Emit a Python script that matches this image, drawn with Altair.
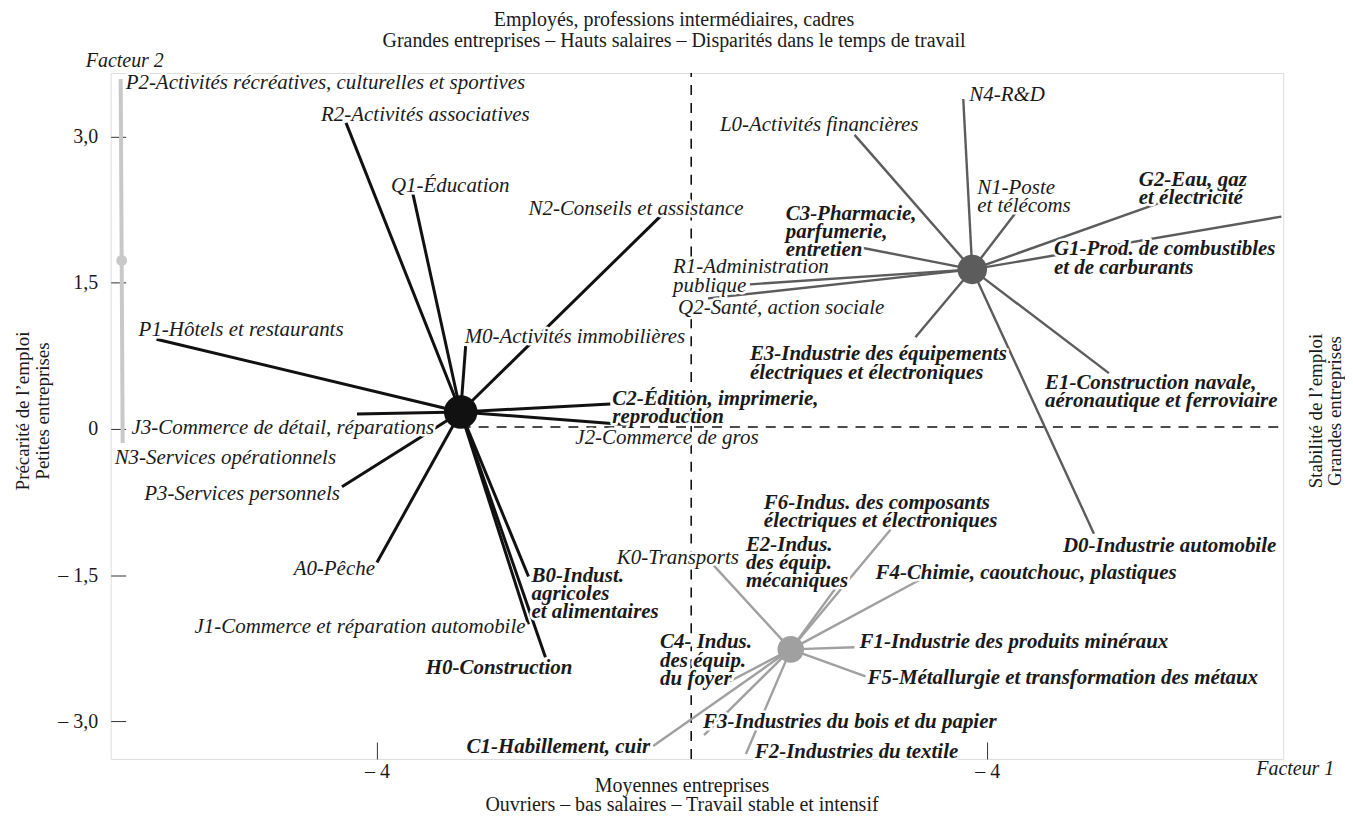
import altair as alt
import pandas as pd

FONT = "Liberation Serif"

# ---------------- data (x = Facteur 1, y = Facteur 2) ----------------
cluster_ids = ["noir", "gris_fonce", "gris_moyen", "gris_clair"]
cluster_cx = [-2.902, 3.804, 1.425, -7.346]
cluster_cy = [0.174, 1.636, -2.260, 1.728]

sector_cluster = (["noir"] * 13 + ["gris_clair"] * 2 + ["gris_fonce"] * 11 + ["gris_moyen"] * 10)
sector_x = [-4.405, -3.529, -0.275, -2.837, -6.889, -4.261, -0.941, -0.667, -4.458, -4.000, -2.013, -2.013, -1.791,
            -7.359, -7.333,
            3.686, 2.261, 4.366, 6.379, 7.856, 2.340, 0.889, 0.340, 3.059, 5.595, 5.399,
            0.405, 2.039, 2.732, 3.124, 2.261, 2.405, 0.627, 0.288, 0.837, -0.379]
sector_y = [3.139, 2.413, 2.188, 0.849, 0.920, 0.153, 0.256, 0.041, -0.593, -1.370, -1.513, -2.004, -2.342,
            3.589, -0.143,
            3.384, 3.016, 2.209, 2.352, 2.178, 1.861, 1.483, 1.339, 0.941, 0.573, -1.074,
            -1.391, -1.605, -1.033, -1.544, -2.239, -2.536, -2.587, -3.139, -3.333, -3.252]

label_text = [
    "R2-Activités associatives", "Q1-Éducation", "N2-Conseils et assistance", "M0-Activités immobilières",
    "P1-Hôtels et restaurants", "J3-Commerce de détail, réparations", "C2-Édition, imprimerie,\nreproduction",
    "J2-Commerce de gros", "P3-Services personnels", "A0-Pêche", "B0-Indust.\nagricoles\net alimentaires",
    "J1-Commerce et réparation automobile", "H0-Construction",
    "P2-Activités récréatives, culturelles et sportives", "N3-Services opérationnels",
    "N4-R&D", "L0-Activités financières", "N1-Poste\net télécoms", "G2-Eau, gaz\net électricité",
    "G1-Prod. de combustibles\net de carburants", "C3-Pharmacie,\nparfumerie,\nentretien",
    "R1-Administration\npublique", "Q2-Santé, action sociale",
    "E3-Industrie des équipements\nélectriques et électroniques",
    "E1-Construction navale,\naéronautique et ferroviaire", "D0-Industrie automobile",
    "K0-Transports", "E2-Indus.\ndes équip.\nmécaniques", "F6-Indus. des composants\nélectriques et électroniques",
    "F4-Chimie, caoutchouc, plastiques", "F1-Industrie des produits minéraux",
    "F5-Métallurgie et transformation des métaux", "C4- Indus.\ndes équip.\ndu foyer",
    "F3-Industries du bois et du papier", "F2-Industries du textile", "C1-Habillement, cuir",
]
label_x = [-4.732, -3.817, -2.013, -2.850, -7.124, -7.216, -0.915, -1.399, -4.484, -4.026, -1.974, -2.052, -3.359,
           -7.294, -7.438,
           3.765, 0.497, 3.869, 5.987, 4.876, 1.359, -0.118, -0.052, 0.889, 4.758, 4.993,
           0.745, 0.837, 1.072, 2.536, 2.327, 2.431, -0.288, 0.275, 0.954, -0.418]
label_y = [3.231, 2.505, 2.270, 0.951, 1.022, 0.020, 0.317, -0.082, -0.654, -1.431, -1.493, -2.025, -2.444,
           3.558, -0.286,
           3.436, 3.129, 2.485, 2.566, 1.851, 2.219, 1.667, 1.247, 0.777, 0.481, -1.186,
           -1.309, -1.176, -0.746, -1.472, -2.178, -2.546, -2.178, -2.996, -3.303, -3.252]
label_align = ["left"] * 8 + ["right", "right", "left", "right", "left"] + ["left"] * 2 + ["left"] * 11 + \
              ["right"] + ["left"] * 8 + ["right"]
label_bold = [False, False, False, False, False, False, True, False, False, False, True, False, True,
              False, False,
              False, False, False, True, True, True, False, False, True, True, True,
              False, True, True, True, True, True, True, True, True, True]

y_tick_values = [-3.0, -1.5, 0.0, 1.5, 3.0]
y_tick_labels = ["– 3,0", "– 1,5", "0", "1,5", "3,0"]
x_tick_values = [-4.0, 4.0]
x_tick_labels = ["– 4", "– 4"]

x_domain = [-7.49, 7.88]
y_domain = [-3.384, 3.650]
ref_x = 0.12   # vertical dashed line (Facteur 1 = 0)
ref_y = 0.02   # horizontal dashed line (Facteur 2 = 0)

# ---------------- styles ----------------
cluster_color = {"noir": "#111111", "gris_fonce": "#5c5c5c", "gris_moyen": "#a0a0a0", "gris_clair": "#c8c8c8"}
cluster_width = {"noir": 3.0, "gris_fonce": 2.4, "gris_moyen": 2.4, "gris_clair": 4.0}
cluster_size = {"noir": 1130, "gris_fonce": 880, "gris_moyen": 710, "gris_clair": 120}
TEXT_COLOR = "#1a1a1a"
LABEL_SIZE = 21
W, H = 1176, 688

# ---------------- tables ----------------
centers = pd.DataFrame({"cluster": cluster_ids, "cx": cluster_cx, "cy": cluster_cy})
cmap = dict(zip(cluster_ids, zip(cluster_cx, cluster_cy)))
spokes = pd.DataFrame({
    "cluster": sector_cluster,
    "cx": [cmap[c][0] for c in sector_cluster],
    "cy": [cmap[c][1] for c in sector_cluster],
    "ex": sector_x, "ey": sector_y,
})
labels = pd.DataFrame({"label": label_text, "lx": label_x, "ly": label_y,
                       "anchor": label_align, "bold": label_bold})


def expr_map(values, texts):
    e = "''"
    for v, t in zip(values, texts):
        e = f"abs(datum.value - ({v})) < 0.001 ? '{t}' : " + e
    return e


xs = alt.Scale(domain=x_domain, nice=False, zero=False)
ys = alt.Scale(domain=y_domain, nice=False, zero=False)
x_axis = alt.Axis(values=x_tick_values, labelExpr=expr_map(x_tick_values, x_tick_labels), title=None,
                  grid=False, domain=False, tickSize=17, offset=-17, tickColor="#333333", tickWidth=1,
                  labelFont=FONT, labelFontSize=20, labelColor=TEXT_COLOR, labelPadding=3, labelFlush=False)
y_axis = alt.Axis(values=y_tick_values, labelExpr=expr_map(y_tick_values, y_tick_labels), title=None,
                  grid=False, domain=False, tickSize=15, offset=-15, tickColor="#333333", tickWidth=1,
                  labelFont=FONT, labelFontSize=20, labelColor=TEXT_COLOR, labelPadding=13, labelFlush=False)


def X(field):
    return alt.X(field, type="quantitative", scale=xs, axis=x_axis)


def Y(field):
    return alt.Y(field, type="quantitative", scale=ys, axis=y_axis)


layers = []

# dashed reference lines
layers.append(alt.Chart(pd.DataFrame({"x": [ref_x], "y0": [y_domain[0]], "y1": [y_domain[1]]}))
              .mark_rule(color="#111111", strokeWidth=1.6, strokeDash=[10, 8])
              .encode(x=X("x"), y=Y("y0"), y2="y1"))
layers.append(alt.Chart(pd.DataFrame({"x0": [cluster_cx[0]], "x1": [x_domain[1]], "y": [ref_y]}))
              .mark_rule(color="#111111", strokeWidth=1.6, strokeDash=[10, 8])
              .encode(x=X("x0"), x2="x1", y=Y("y")))

# spokes
for c in cluster_ids:
    layers.append(alt.Chart(spokes[spokes["cluster"] == c])
                  .mark_rule(color=cluster_color[c], strokeWidth=cluster_width[c])
                  .encode(x=X("cx"), y=Y("cy"), x2="ex", y2="ey"))

# cluster centres
for c in cluster_ids:
    layers.append(alt.Chart(centers[centers["cluster"] == c])
                  .mark_circle(color=cluster_color[c], opacity=1, size=cluster_size[c])
                  .encode(x=X("cx"), y=Y("cy")))

# labels (white halo then text)
for halo in (True, False):
    for bold in (False, True):
        for align in ("left", "right"):
            sub = labels[(labels["bold"] == bold) & (labels["anchor"] == align)]
            if len(sub) == 0:
                continue
            kw = dict(font=FONT, fontSize=LABEL_SIZE, fontStyle="italic",
                      fontWeight="bold" if bold else "normal", align=align, baseline="alphabetic",
                      dy=7, lineBreak="\n", lineHeight=18.5)
            if halo:
                kw.update(color="white", stroke="white", strokeWidth=5, strokeJoin="round")
            else:
                kw.update(color=TEXT_COLOR)
            layers.append(alt.Chart(sub).mark_text(**kw).encode(x=X("lx"), y=Y("ly"), text="label:N"))


# free annotations (pixel positions relative to the plot area)
def note(txt, x, y, size=20, style="normal", align="center", angle=0):
    return (alt.Chart(pd.DataFrame({"t": [txt]}))
            .mark_text(font=FONT, fontSize=size, fontStyle=style, align=align, baseline="middle",
                       angle=angle, color=TEXT_COLOR)
            .encode(x=alt.value(x), y=alt.value(y), text="t:N"))


layers += [
    note("Employés, professions intermédiaires, cadres", 565, -53),
    note("Grandes entreprises – Hauts salaires – Disparités dans le temps de travail", 565, -32),
    note("Facteur 2", -25, -12, size=20, style="italic", align="left"),
    note("Moyennes entreprises", 573, 715),
    note("Ouvriers – bas salaires – Travail stable et intensif", 573, 734),
    note("Facteur 1", 1149, 698, size=20, style="italic", align="left"),
    note("Précarité de l’emploi", -88, 339, size=19, angle=270),
    note("Petites entreprises", -68, 339, size=19, angle=270),
    note("Stabilité de l’emploi", 1209, 339, size=19, angle=270),
    note("Grandes entreprises", 1228, 339, size=19, angle=270),
]

chart = (alt.layer(*layers)
         .properties(width=W, height=H,
                     autosize=alt.AutoSizeParams(type="none"),
                     padding={"left": 103, "top": 64, "right": 62, "bottom": 56})
         .configure_view(stroke="#3a3a3a", strokeWidth=1.2)
         .configure(background="white"))

chart.save("out.html", embed_options={"renderer": "svg", "actions": False})
